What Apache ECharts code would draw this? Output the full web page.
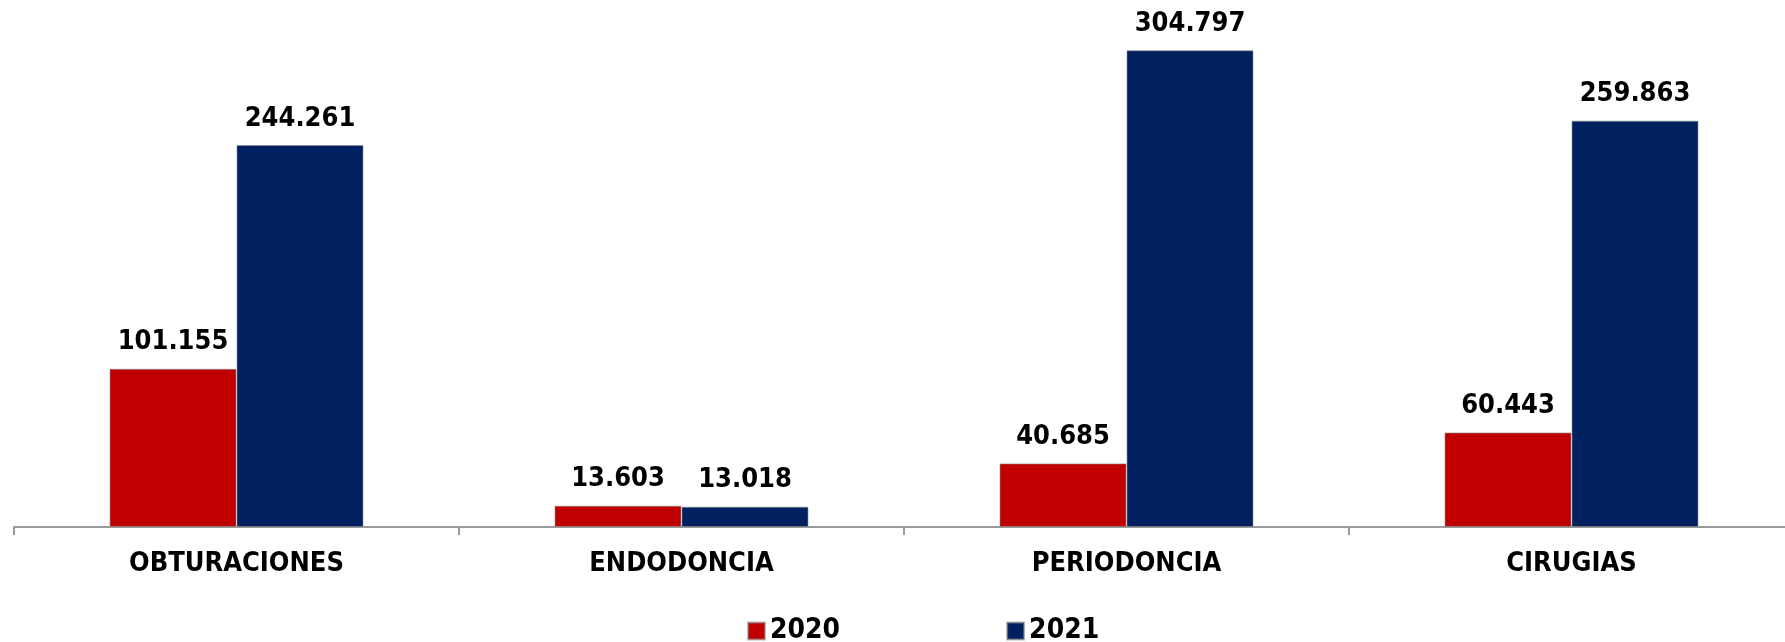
<!DOCTYPE html>
<html>
<head>
<meta charset="utf-8">
<script src="https://cdn.jsdelivr.net/npm/echarts@6/dist/echarts.min.js"></script>
<style>
  html, body { margin: 0; padding: 0; background: #fff; }
  #chart { width: 1785px; height: 642px; }
</style>
</head>
<body>
<div id="chart"></div>
<script>
// datos del grafico
const categories = ['OBTURACIONES', 'ENDODONCIA', 'PERIODONCIA', 'CIRUGIAS']
const values2020 = [101155, 13603, 40685, 60443]
const values2021 = [244261, 13018, 304797, 259863]

const font = "'DejaVu Sans Condensed', 'DejaVu Sans', sans-serif"

// separador de miles con punto
function fmt(v) {
  return String(v).replace(/\B(?=(\d{3})+(?!\d))/g, '.')
}

const labelStyle = {
  show: true,
  position: 'top',
  distance: 13,
  color: '#000',
  fontFamily: font,
  fontWeight: 'bold',
  fontSize: 27,
  formatter: p => fmt(p.value)
}

const myChart = echarts.init(document.getElementById('chart'))
const option = {
  animation: false,
  backgroundColor: '#fff',
  grid: {
    left: 14,
    width: 1780,
    top: 0,
    bottom: 115,
    containLabel: false,
    outerBoundsMode: 'none'
  },
  legend: {
    left: 742,
    top: 612,
    icon: 'rect',
    itemWidth: 17,
    itemHeight: 17,
    itemGap: 166,
    textStyle: {
      color: '#000',
      fontFamily: font,
      fontWeight: 'bold',
      fontSize: 28
    },
    data: ['2020', '2021']
  },
  xAxis: {
    type: 'category',
    data: categories,
    axisLine: {
      lineStyle: { color: '#9a9a9a', width: 2 }
    },
    axisTick: {
      show: true,
      length: 8,
      lineStyle: { color: '#9a9a9a', width: 2 }
    },
    axisLabel: {
      color: '#000',
      fontFamily: font,
      fontWeight: 'bold',
      fontSize: 27,
      margin: 23
    }
  },
  yAxis: {
    type: 'value',
    min: 0,
    max: 337000,
    show: false,
    splitLine: { show: false }
  },
  series: [
    {
      name: '2020',
      type: 'bar',
      barWidth: 127,
      barGap: '0%',
      itemStyle: { color: '#C00000', borderColor: 'rgba(140,140,140,0.6)', borderWidth: 1 },
      label: labelStyle,
      data: values2020
    },
    {
      name: '2021',
      type: 'bar',
      barWidth: 127,
      barGap: '0%',
      itemStyle: { color: '#002060', borderColor: 'rgba(140,140,140,0.6)', borderWidth: 1 },
      label: labelStyle,
      data: values2021
    }
  ]
}
myChart.setOption(option)
</script>
</body>
</html>
